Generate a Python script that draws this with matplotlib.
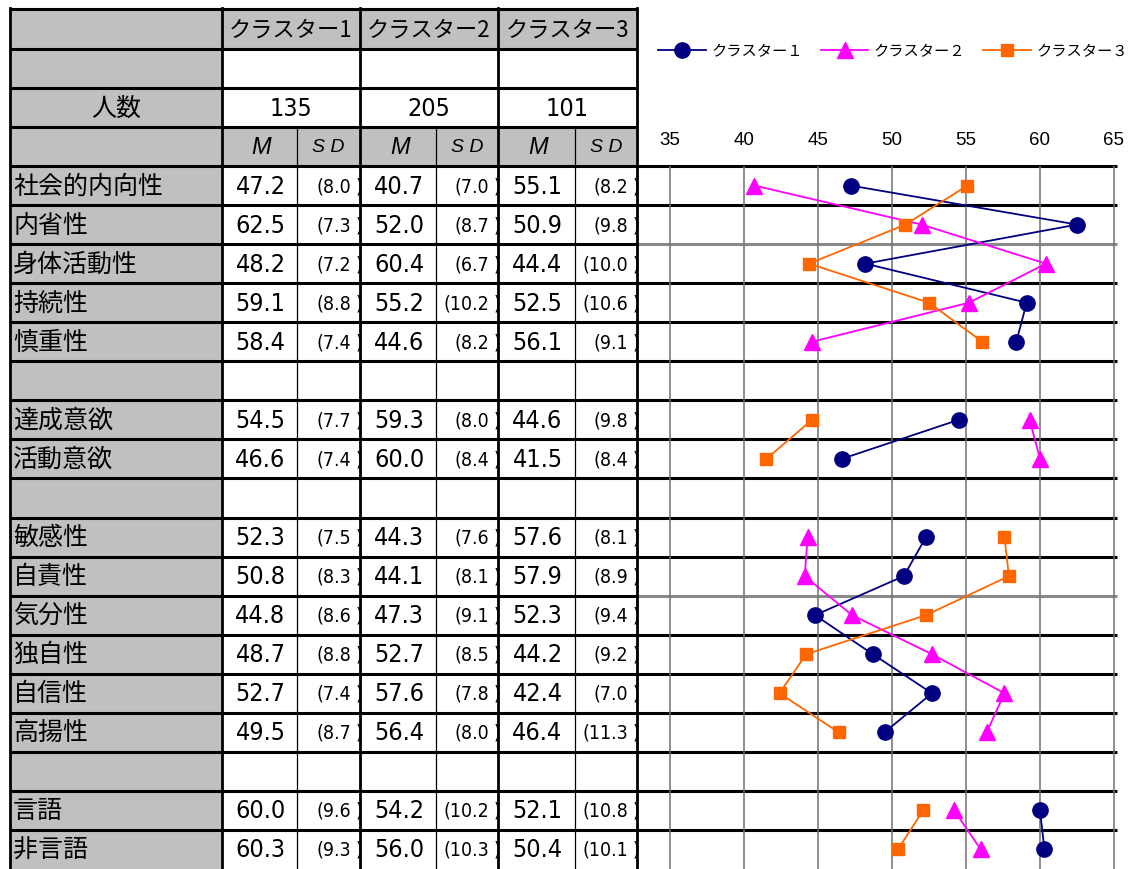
import numpy as np
import matplotlib
matplotlib.use('Agg')
import matplotlib.pyplot as plt
from matplotlib import font_manager
from matplotlib.lines import Line2D

# フォント (細めの数字フォントがあれば使う)
fonts = font_manager.fontManager.ttflist
names = {f.name for f in fonts}
if 'Liberation Sans Narrow' in names:
    NUM_FONT, NUM_STRETCH, M_SIZE, SD_SIZE = 'Liberation Sans Narrow', 'normal', 20, 15.5
elif any(f.name == 'DejaVu Sans' and f.stretch == 'condensed' for f in fonts):
    NUM_FONT, NUM_STRETCH, M_SIZE, SD_SIZE = 'DejaVu Sans', 'condensed', 18, 14
else:
    NUM_FONT, NUM_STRETCH, M_SIZE, SD_SIZE = 'Liberation Sans', 'normal', 17, 14
JP_FONT = ['Noto Sans CJK JP', 'DejaVu Sans']
plt.rcParams['font.family'] = JP_FONT

# データ
clusters = ['クラスター1', 'クラスター2', 'クラスター3']
legend_names = ['クラスター１', 'クラスター２', 'クラスター３']
n_people = [135, 205, 101]
labels = ['社会的内向性', '内省性', '身体活動性', '持続性', '慎重性', None,
          '達成意欲', '活動意欲', None,
          '敏感性', '自責性', '気分性', '独自性', '自信性', '高揚性', None,
          '言語', '非言語']
m1 = [47.2, 62.5, 48.2, 59.1, 58.4, None, 54.5, 46.6, None,
      52.3, 50.8, 44.8, 48.7, 52.7, 49.5, None, 60.0, 60.3]
sd1 = [8.0, 7.3, 7.2, 8.8, 7.4, None, 7.7, 7.4, None,
       7.5, 8.3, 8.6, 8.8, 7.4, 8.7, None, 9.6, 9.3]
m2 = [40.7, 52.0, 60.4, 55.2, 44.6, None, 59.3, 60.0, None,
      44.3, 44.1, 47.3, 52.7, 57.6, 56.4, None, 54.2, 56.0]
sd2 = [7.0, 8.7, 6.7, 10.2, 8.2, None, 8.0, 8.4, None,
       7.6, 8.1, 9.1, 8.5, 7.8, 8.0, None, 10.2, 10.3]
m3 = [55.1, 50.9, 44.4, 52.5, 56.1, None, 44.6, 41.5, None,
      57.6, 57.9, 52.3, 44.2, 42.4, 46.4, None, 52.1, 50.4]
sd3 = [8.2, 9.8, 10.0, 10.6, 9.1, None, 9.8, 8.4, None,
       8.1, 8.9, 9.4, 9.2, 7.0, 11.3, None, 10.8, 10.1]
x_ticks = [35, 40, 45, 50, 55, 60, 65]

means = [m1, m2, m3]
sds = [sd1, sd2, sd3]
colors = ['#000080', '#FF00FF', '#FF6600']
markers = ['o', '^', 's']
msizes = [11, 11, 9]

# レイアウト (ピクセル)
W, H = 1137, 870
col_x = [10, 222, 297, 360, 436, 498, 575, 637]
head_y = [10, 50, 89, 128, 167]
row_h = (H - 167) / 18
row_y = [167 + row_h * i for i in range(19)]
GRAY = '#C0C0C0'

fig = plt.figure(figsize=(W / 100, H / 100), dpi=100)
fig.patch.set_facecolor('white')
base = fig.add_axes([0, 0, 1, 1])
base.set_xlim(0, W)
base.set_ylim(H, 0)
base.axis('off')

# 背景 (灰色のセル)
base.fill_between([col_x[0], col_x[1]], head_y[0], H, color=GRAY, lw=0)
base.fill_between([col_x[1], col_x[-1]], head_y[0], head_y[1], color=GRAY, lw=0)
base.fill_between([col_x[1], col_x[-1]], head_y[3], head_y[4], color=GRAY, lw=0)

num_kw = dict(family=NUM_FONT, stretch=NUM_STRETCH)

# ヘッダー
for k in range(3):
    xl, xr = col_x[1 + 2 * k], col_x[3 + 2 * k]
    xc = (xl + xr) / 2
    base.text(xc, (head_y[0] + head_y[1]) / 2, clusters[k], ha='center', va='center',
              fontsize=16, family=JP_FONT)
    base.text(xc, (head_y[2] + head_y[3]) / 2, str(n_people[k]), ha='center', va='center',
              fontsize=M_SIZE, **num_kw)
    base.text((col_x[1 + 2 * k] + col_x[2 + 2 * k]) / 2 + 2, (head_y[3] + head_y[4]) / 2, 'M',
              ha='center', va='center', fontsize=17, style='italic', family='Liberation Sans')
    base.text((col_x[2 + 2 * k] + col_x[3 + 2 * k]) / 2, (head_y[3] + head_y[4]) / 2, 'S D',
              ha='center', va='center', fontsize=14, style='italic', family='Liberation Sans')
base.text((col_x[0] + col_x[1]) / 2, (head_y[2] + head_y[3]) / 2, '人数',
          ha='center', va='center', fontsize=18, family=JP_FONT)

# 本体
for i, lab in enumerate(labels):
    yc = (row_y[i] + row_y[i + 1]) / 2
    if lab is None:
        continue
    base.text(col_x[0] + 3, yc, lab, ha='left', va='center', fontsize=18, family=JP_FONT)
    for k in range(3):
        xm = (col_x[1 + 2 * k] + col_x[2 + 2 * k]) / 2
        xr = col_x[3 + 2 * k]
        base.text(xm + 1, yc, f'{means[k][i]:.1f}', ha='center', va='center',
                  fontsize=M_SIZE, **num_kw)
        base.text(xr - 9, yc, f'({sds[k][i]:.1f}', ha='right', va='center',
                  fontsize=SD_SIZE, **num_kw)
        base.text(xr - 1, yc, ')', ha='center', va='center', fontsize=SD_SIZE,
                  zorder=1, **num_kw)

# 罫線
for y in head_y[:-1]:
    base.plot([col_x[0], col_x[-1]], [y, y], color='black', lw=2.2, zorder=5,
              solid_capstyle='butt')
for i, y in enumerate(row_y[:-1]):
    base.plot([col_x[0], col_x[-1]], [y, y], color='black', lw=2.2, zorder=5,
              solid_capstyle='butt')
    c = '#8a8a8a' if i in (2, 11) else 'black'
    base.plot([col_x[-1], 1117], [y, y], color=c, lw=2.2, zorder=5, solid_capstyle='butt')
for x in [col_x[0], col_x[1], col_x[3], col_x[5], col_x[7]]:
    base.plot([x, x], [head_y[0] - 1, H], color='black', lw=2.0, zorder=5)
for x in [col_x[2], col_x[4], col_x[6]]:
    base.plot([x, x], [head_y[3], H], color='black', lw=0.9, zorder=5)

# グラフ
ax = fig.add_axes([670 / W, 0, (1114 - 670) / W, (H - 167) / H])
ax.patch.set_alpha(0)
ax.set_xlim(35, 65)
ax.set_ylim(18, 0)
for s in ax.spines.values():
    s.set_visible(False)
ax.vlines(x_ticks, 0, 18, color='#707070', lw=1.1, clip_on=False, zorder=1)
ax.xaxis.tick_top()
ax.set_xticks(x_ticks)
ax.tick_params(axis='x', length=0, pad=13, labelsize=13.5)
for t in ax.get_xticklabels():
    t.set_family('Liberation Sans')
ax.set_yticks([])

ypos = np.arange(18) + 0.5
handles = []
for k in range(3):
    vals = np.array(means[k], dtype=float)
    ax.plot(vals, ypos, color=colors[k], lw=1.3, marker=markers[k],
            markersize=msizes[k], markeredgecolor=colors[k], clip_on=False, zorder=3)
    handles.append(Line2D([], [], color=colors[k], lw=1.3, marker=markers[k],
                          markersize=msizes[k], markeredgecolor=colors[k]))

fig.legend(handles, legend_names, loc='center', bbox_to_anchor=(893 / W, 1 - 52 / H),
           ncol=3, frameon=False, handlelength=3.1, handletextpad=0.35,
           columnspacing=1.2, borderpad=0.1, prop={'family': JP_FONT, 'size': 11})

fig.savefig('out.png', dpi=100)
